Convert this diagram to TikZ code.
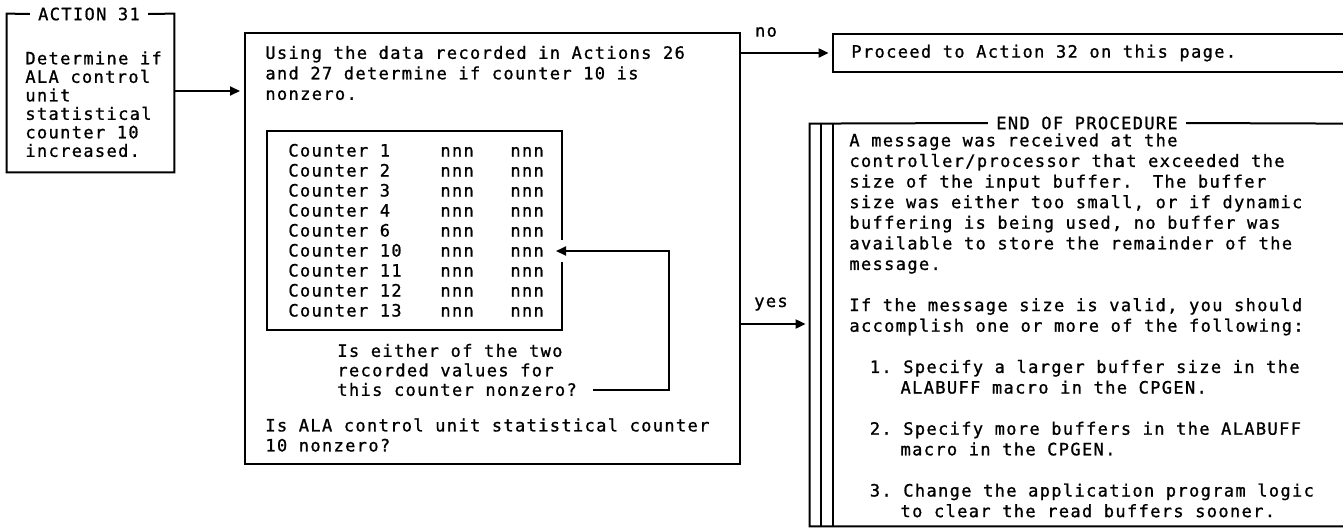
\documentclass[tikz,border=0pt]{standalone}
\usepackage{fontspec}
\usetikzlibrary{arrows.meta,fit,calc}
\newfontfamily\lgfont[LetterSpace=8,FakeBold=1]{DejaVu Sans Mono}
\newcommand\lgsp{\phantom{0}}
\begin{document}
\begin{tikzpicture}[x=0.5pt,y=-0.5pt,
  ln/.style={line width=1pt},
  arr/.style={line width=1pt,-{Triangle[length=5pt,width=4.5pt]}},
  txt/.style={font=\lgfont\fontsize{8.5}{#1}\selectfont\frenchspacing, inner sep=0pt, align=left, anchor=north west},
  txt/.default={10.25pt},
  lbl/.style={font=\lgfont\fontsize{8.5}{10}\selectfont, inner sep=1pt},
  frame/.style={inner sep=0pt}
]
\fill[white] (0,0) rectangle (1343,531);
\useasboundingbox (0,0) rectangle (1343,531);

% left box
\node[frame, fit={(7,14) (174,172)}] (lbox) {};
\node[lbl] (ltitle) at (89,14) {ACTION 31};
\draw[ln] ([xshift=-3pt]ltitle.west) -- (lbox.north west) -- (lbox.south west) -- (lbox.south east) -- (lbox.north east) -- ([xshift=3pt]ltitle.east);
\node[txt=9.25pt] (ltxt) at (25,51) {Determine if\\ALA control\\unit\\statistical\\counter 10\\increased.};

% middle box
\node[frame, draw, ln, fit={(245,33) (740,464)}] (mid) {};
\node[txt] (mtxt) at (265,45.5) {Using the data recorded in Actions 26\\and 27 determine if counter 10 is\\nonzero.};

% table
\node[frame, fit={(267,131) (562,330)}] (tab) {};
\draw[ln] (tab.east |- 0,240) -- (tab.north east) -- (tab.north west) -- (tab.south west) -- (tab.south east) -- (tab.east |- 0,262);
\node[txt=10pt] (tc0) at (288,143.5) {Counter 1\\Counter 2\\Counter 3\\Counter 4\\Counter 6\\Counter 10\\Counter 11\\Counter 12\\Counter 13};
\node[txt=10pt] (tc1) at (440,143.5) {\vphantom{C}nnn\\nnn\\nnn\\nnn\\nnn\\nnn\\nnn\\nnn\\nnn};
\node[txt=10pt] (tc2) at (510,143.5) {\vphantom{C}nnn\\nnn\\nnn\\nnn\\nnn\\nnn\\nnn\\nnn\\nnn};
\coordinate (c10) at (556,251);

\node[txt=9.75pt] (q) at (337,343.5) {Is either of the two\\recorded values for\\this counter nonzero?};
\coordinate (fbs) at (593,390);
\draw[arr] (fbs) -| ([xshift=56.5pt]c10) -- (c10);

\node[txt=10pt] (mq) at (265,418) {Is ALA control unit statistical counter\\10 nonzero?};

% left -> middle
\draw[arr, shorten >=2pt] (lbox.east |- 0,91) -- (mid.west |- 0,91);

% proceed box
\node[frame, fit={(833,34) (1343,72)}] (proc) {};
\draw[ln] (proc.north east) -- (proc.north west) -- (proc.south west) -- (proc.south east);
\node[lbl, anchor=west, inner sep=0pt] (proctxt) at (851,53) {Proceed to Action 32 on this page.};

% no
\draw[arr, shorten >=2pt] (mid.east |- 0,53) -- (proc.west |- 0,53);
\node[lbl] (nolbl) at (766,32) {no};

% end of procedure box
\node[frame, fit={(810,124) (1343,526)}] (eop) {};
\node[lbl] (eoph) at (1087,123) {END OF PROCEDURE};
\draw[ln] ([xshift=-3pt]eoph.west) -- (eop.north west) -- (eop.south west) -- (eop.south east);
\draw[ln] ([xshift=3pt]eoph.east) -- (eop.north east);
\draw[ln] ([xshift=5.75pt]eop.north west) -- ([xshift=5.75pt]eop.south west);
\draw[ln] ([xshift=11.5pt]eop.north west) -- ([xshift=11.5pt]eop.south west);
\node[txt=10.3pt] (eoptxt) at (849,133) {A message was received at the\\controller/processor that exceeded the\\size of the input buffer.\lgsp\lgsp The buffer\\size was either too small, or if dynamic\\buffering is being used, no buffer was\\available to store the remainder of the\\message.\\\mbox{}\\If the message size is valid, you should\\accomplish one or more of the following:\\\mbox{}\\\lgsp\lgsp 1. Specify a larger buffer size in the\\\lgsp\lgsp\lgsp\lgsp\lgsp ALABUFF macro in the CPGEN.\\\mbox{}\\\lgsp\lgsp 2. Specify more buffers in the ALABUFF\\\lgsp\lgsp\lgsp\lgsp\lgsp macro in the CPGEN.\\\mbox{}\\\lgsp\lgsp 3. Change the application program logic\\\lgsp\lgsp\lgsp\lgsp\lgsp to clear the read buffers sooner.};

% yes
\draw[arr, shorten >=2pt] (mid.east |- 0,324) -- (eop.west |- 0,324);
\node[lbl] (yeslbl) at (771,304) {yes};
\end{tikzpicture}
\end{document}
